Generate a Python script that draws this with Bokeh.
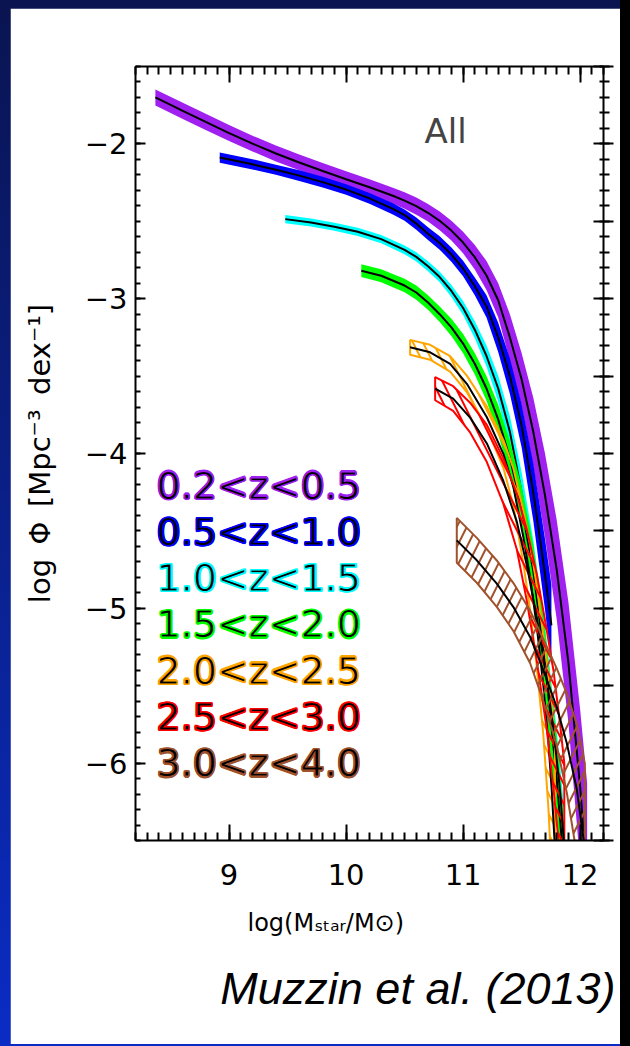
from bokeh.plotting import figure
from bokeh.models import LinearAxis, FixedTicker, Label, Range1d, CustomJSTickFormatter, Title
from bokeh.embed import file_html
from bokeh.resources import INLINE

# ---- data: log stellar mass, log Phi (centre), half-width of band (dex)
m_p = [8.37, 8.6, 8.8, 9.0, 9.2, 9.4, 9.6, 9.8, 10.0, 10.2, 10.4, 10.5, 10.6, 10.7, 10.8, 10.9, 11.0,
       11.1, 11.2, 11.3, 11.4, 11.5, 11.6, 11.7, 11.8, 11.9, 12.0, 12.06]
phi_p = [-1.700, -1.785, -1.858, -1.930, -1.998, -2.062, -2.120, -2.175, -2.228, -2.280, -2.335, -2.366,
         -2.402, -2.445, -2.497, -2.560, -2.637, -2.732, -2.850, -3.01, -3.25, -3.52, -3.86, -4.27,
         -4.75, -5.35, -6.15, -6.75]
err_p = [0.052, 0.052, 0.052, 0.052, 0.051, 0.051, 0.051, 0.051, 0.051, 0.051, 0.051, 0.053, 0.055,
         0.057, 0.061, 0.064, 0.070, 0.079, 0.093, 0.11, 0.15, 0.17, 0.22, 0.27, 0.32, 0.39, 0.50, 0.62]

m_b = [8.92, 9.2, 9.4, 9.6, 9.8, 10.0, 10.2, 10.4, 10.5, 10.6, 10.7, 10.8, 10.9, 11.0, 11.1, 11.2,
       11.3, 11.4, 11.5, 11.6, 11.7, 11.755]
phi_b = [-2.088, -2.132, -2.167, -2.205, -2.247, -2.295, -2.352, -2.420, -2.46, -2.515, -2.58, -2.64,
         -2.715, -2.805, -2.92, -3.05, -3.25, -3.50, -3.82, -4.25, -4.78, -5.11]
err_b = [0.033, 0.033, 0.033, 0.034, 0.034, 0.034, 0.035, 0.036, 0.037, 0.039, 0.041, 0.043, 0.046,
         0.050, 0.057, 0.072, 0.094, 0.115, 0.14, 0.185, 0.23, 0.26]

m_c = [9.48, 9.7, 9.9, 10.1, 10.3, 10.5, 10.6, 10.7, 10.8, 10.9, 11.0, 11.1, 11.2, 11.3, 11.4, 11.5,
       11.6, 11.7, 11.8, 11.86]
phi_c = [-2.486, -2.508, -2.535, -2.568, -2.615, -2.685, -2.73, -2.79, -2.86, -2.95, -3.06, -3.20,
         -3.37, -3.58, -3.86, -4.25, -4.73, -5.32, -6.05, -6.55]
err_c = [0.026, 0.026, 0.026, 0.027, 0.027, 0.028, 0.030, 0.032, 0.034, 0.039, 0.045, 0.055, 0.068,
         0.083, 0.10, 0.13, 0.17, 0.21, 0.26, 0.29]

m_g = [10.13, 10.3, 10.5, 10.6, 10.7, 10.8, 10.9, 11.0, 11.1, 11.2, 11.3, 11.4, 11.5, 11.6, 11.7,
       11.8, 11.86]
phi_g = [-2.819, -2.852, -2.915, -2.96, -3.025, -3.10, -3.185, -3.29, -3.42, -3.58, -3.78, -4.03,
         -4.35, -4.76, -5.35, -6.10, -6.65]
err_g = [0.041, 0.042, 0.044, 0.046, 0.047, 0.050, 0.056, 0.062, 0.07, 0.08, 0.095, 0.11, 0.14,
         0.17, 0.21, 0.27, 0.30]

m_o = [10.547, 10.718, 10.889, 11.032, 11.203, 11.344, 11.43, 11.515, 11.573, 11.63, 11.686, 11.729,
       11.758, 11.785]
phi_o = [-3.314, -3.346, -3.421, -3.550, -3.766, -4.002, -4.217, -4.54, -4.80, -5.12, -5.50, -5.86,
         -6.18, -6.55]
err_o = [0.048, 0.048, 0.05, 0.053, 0.07, 0.09, 0.12, 0.17, 0.21, 0.26, 0.32, 0.43, 0.55, 0.66]

m_r = [10.761, 10.915, 11.06, 11.203, 11.342, 11.459, 11.544, 11.63, 11.715, 11.772, 11.829, 11.865]
phi_r = [-3.581, -3.645, -3.768, -3.935, -4.174, -4.44, -4.72, -5.06, -5.46, -5.78, -6.18, -6.55]
err_r = [0.075, 0.08, 0.096, 0.12, 0.146, 0.18, 0.23, 0.28, 0.32, 0.38, 0.43, 0.55]

m_n = [10.946, 11.117, 11.288, 11.43, 11.573, 11.686, 11.801, 11.886, 11.972, 12.04]
phi_n = [-4.561, -4.690, -4.841, -4.992, -5.185, -5.40, -5.64, -5.87, -6.17, -6.55]
err_n = [0.145, 0.145, 0.15, 0.155, 0.17, 0.20, 0.25, 0.32, 0.42, 0.55]

labels = ["0.2<z<0.5", "0.5<z<1.0", "1.0<z<1.5", "1.5<z<2.0", "2.0<z<2.5", "2.5<z<3.0", "3.0<z<4.0"]
colors = ["#a020f0", "#0000ff", "#00ffff", "#00ff00", "#ffa500", "#ff0000", "#a0522d"]
hatches = [None, None, None, None, "left_diagonal_line", "left_diagonal_line", "right_diagonal_line"]
series = [(m_p, phi_p, err_p), (m_b, phi_b, err_b), (m_c, phi_c, err_c), (m_g, phi_g, err_g),
          (m_o, phi_o, err_o), (m_r, phi_r, err_r), (m_n, phi_n, err_n)]

x_major = [9, 10, 11, 12]
y_major = [-6, -5, -4, -3, -2]

FONT = "DejaVu Sans"

p = figure(width=610, height=1036, x_range=Range1d(8.2, 12.2), y_range=Range1d(-6.5, -1.5),
           output_backend="svg", toolbar_location=None, x_axis_location=None, y_axis_location=None,
           min_border_left=125, min_border_right=17, min_border_top=58, min_border_bottom=204,
           background_fill_color="white", border_fill_color="white", outline_line_color=None)
p.grid.visible = False

x_minor = [round(8.2 + 0.1 * i, 2) for i in range(41)]
y_minor = [round(-6.5 + 0.1 * i, 2) for i in range(51)]
y_half = [round(-6.5 + 0.5 * i, 2) for i in range(11)]


def style_axis(ax, mj_in, mj_out, mn_in, mn_out):
    ax.axis_line_width = 2
    ax.axis_line_color = "black"
    ax.major_tick_line_width = 2
    ax.minor_tick_line_width = 2
    ax.major_tick_in = mj_in
    ax.major_tick_out = mj_out
    ax.minor_tick_in = mn_in
    ax.minor_tick_out = mn_out
    ax.major_label_text_font = FONT
    ax.major_label_text_color = "black"


bottom = LinearAxis(ticker=FixedTicker(ticks=x_major, minor_ticks=x_minor))
style_axis(bottom, 16, 0, 8, 0)
bottom.major_label_text_font_size = "29px"
bottom.major_label_standoff = 23
p.add_layout(bottom, "below")

top = LinearAxis(ticker=FixedTicker(ticks=x_major, minor_ticks=x_minor),
                 major_label_overrides={t: "" for t in x_major})
style_axis(top, 16, 0, 8, 0)
p.add_layout(top, "above")

left = LinearAxis(ticker=FixedTicker(ticks=y_major, minor_ticks=y_minor),
                  formatter=CustomJSTickFormatter(code="return (tick < 0 ? '\u2212' : '') + Math.abs(tick);"))
style_axis(left, 10, 0, 5, 0)
left.major_label_text_font_size = "29px"
left.major_label_standoff = 8
left.major_label_orientation = "horizontal"
left.axis_label = "log\u2002\u03a6\u2002[Mpc\u207b\u00b3\u2002dex\u207b\u00b9]"
left.axis_label_text_font = FONT
left.axis_label_text_color = "black"
left.axis_label_text_font_style = "normal"
left.axis_label_text_font_size = "29px"
left.axis_label_standoff = 25
p.add_layout(left, "left")

right = LinearAxis(ticker=FixedTicker(ticks=y_half, minor_ticks=y_minor),
                   major_label_overrides={t: "" for t in y_half})
style_axis(right, 10, 10, 4, 6)
p.add_layout(right, "right")

# x-axis title and citation, stacked under the bottom axis
p.add_layout(Title(text="log(M\u209b\u209c\u2090\u1d63/M\u2299)", align="left", offset=112,
                   text_font=FONT, text_font_size="24px", text_font_style="normal",
                   text_color="black", standoff=38), "below")
p.add_layout(Title(text="Muzzin et al. (2013)", align="right", offset=-12,
                   text_font="Liberation Sans", text_font_size="45px", text_font_style="italic",
                   text_color="black", standoff=11), "below")

# ---- bands and central lines
for (m, phi, err), col, hp in zip(series, colors, hatches):
    hi = [f + e for f, e in zip(phi, err)]
    lo = [f - e for f, e in zip(phi, err)]
    xs = list(m) + list(m[::-1]) + [m[0]]
    ys = hi + lo[::-1] + [hi[0]]
    if hp is None:
        p.patch(xs, ys, fill_color=col, line_color=None)
    else:
        p.patch(xs, ys, fill_alpha=0, line_color=col, line_width=2,
                hatch_pattern=hp, hatch_color=col, hatch_weight=2, hatch_scale=20)
    p.line(m, phi, line_color="black", line_width=2)

# ---- text annotations (screen units relative to the plot frame)
p.add_layout(Label(x=310, y=710, x_units="screen", y_units="screen", text="All",
                   text_font=FONT, text_font_size="34px", text_align="center", text_baseline="middle"))

halo = [(1.3, 0), (-1.3, 0), (0, 1.3), (0, -1.3), (0.9, 0.9), (-0.9, 0.9), (0.9, -0.9), (-0.9, -0.9)]
for i, (lab, col) in enumerate(zip(labels, colors)):
    y0 = 355 - 46.3 * i
    for dx, dy in halo:
        p.add_layout(Label(x=21 + dx, y=y0 + dy, x_units="screen", y_units="screen", text=lab,
                           text_font=FONT, text_font_size="38px", text_color=col,
                           text_align="left", text_baseline="middle"))
    p.add_layout(Label(x=21, y=y0, x_units="screen", y_units="screen", text=lab,
                       text_font=FONT, text_font_size="38px", text_color="black",
                       text_outline_color=col, text_align="left", text_baseline="middle"))

html = file_html(p, INLINE, title="Stellar mass functions")
css = ("<style>html, body { margin: 0 !important; background: linear-gradient(to right, rgba(0,0,0,0) 620px, #000 620px), "
       "linear-gradient(to bottom, #0a1450, #0a2cc4) !important; } "
       "body { padding: 8px 0 0 10px !important; overflow: hidden; }</style>")
html = html.replace("</head>", css + "</head>", 1)
open("out.html", "w").write(html)
